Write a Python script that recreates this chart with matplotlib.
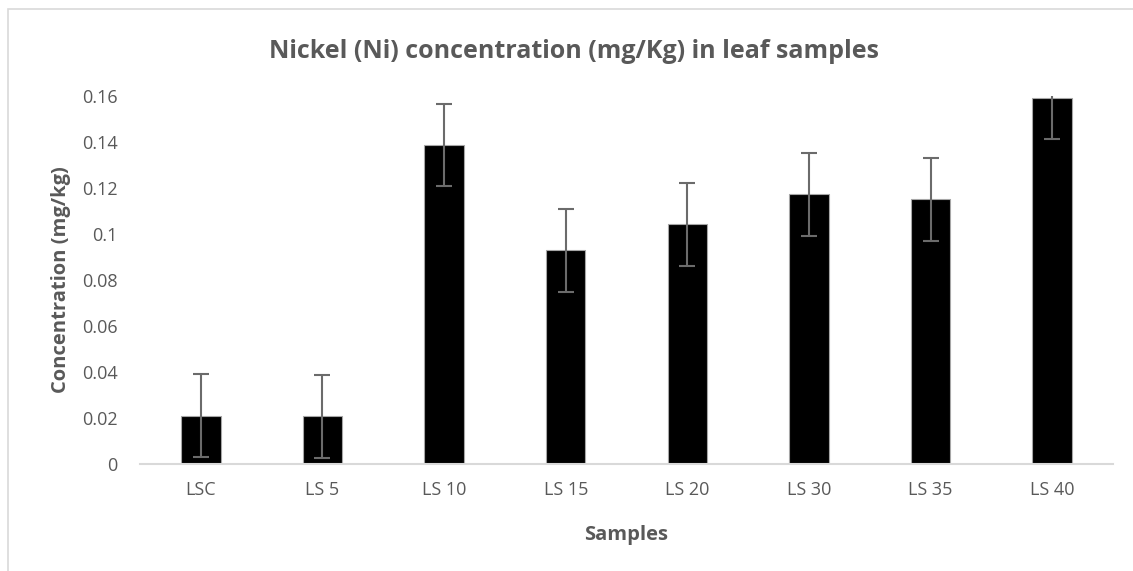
import numpy as np
import matplotlib.pyplot as plt
from matplotlib.patches import Rectangle

samples = ["LSC", "LS 5", "LS 10", "LS 15", "LS 20", "LS 30", "LS 35", "LS 40"]
nickel = [0.0210, 0.0208, 0.1386, 0.0929, 0.1042, 0.1172, 0.1151, 0.1590]
nickel_err = [0.018, 0.018, 0.018, 0.018, 0.018, 0.018, 0.018, 0.018]
y_ticks = [0, 0.02, 0.04, 0.06, 0.08, 0.1, 0.12, 0.14, 0.16]
y_tick_labels = ["0", "0.02", "0.04", "0.06", "0.08", "0.1", "0.12", "0.14", "0.16"]

plt.rcParams['font.family'] = ['Open Sans', 'DejaVu Sans']
text_col = "#595959"

W, H = 1133, 571
fig = plt.figure(figsize=(W / 100, H / 100), dpi=100)

# chart area border (only left/top visible in the crop)
fig.add_artist(Rectangle((8 / W, -0.1), 1.2, 1 - 9 / H + 0.1, transform=fig.transFigure,
                         fill=False, edgecolor="#d9d9d9", linewidth=1.2))

ax = fig.add_axes([140 / W, 1 - 464.3 / H, (1113 - 140) / W, (464.3 - 95.7) / H])

x = np.arange(len(samples))
ax.bar(x, nickel, width=0.325, color="black", edgecolor="#a6a6a6", linewidth=0.8, zorder=2)
ax.errorbar(x, nickel, yerr=nickel_err, fmt="none", ecolor="#6b6b6b", elinewidth=1.5,
            capsize=5.5, capthick=1.5, zorder=3)

ax.set_xlim(-0.5, len(samples) - 0.5)
ax.set_ylim(0, 0.16)
ax.set_yticks(y_ticks)
ax.set_yticklabels(y_tick_labels)
ax.set_xticks(x)
ax.set_xticklabels(samples)
ax.tick_params(axis="both", length=0, labelsize=13, labelcolor=text_col)
ax.tick_params(axis="y", pad=16)
ax.tick_params(axis="x", pad=12)

for s in ["top", "right", "left"]:
    ax.spines[s].set_visible(False)
ax.spines["bottom"].set_color("#d9d9d9")
ax.spines["bottom"].set_linewidth(1.5)

ax.set_ylabel("Concentration (mg/kg)", fontsize=14.5, fontweight="bold", color=text_col, labelpad=8)
ax.set_xlabel("Samples", fontsize=14.5, fontweight="bold", color=text_col, labelpad=19)

fig.text(574 / W, 1 - 52 / H, "Nickel (Ni) concentration (mg/Kg) in leaf samples",
         ha="center", va="center", fontsize=18, fontweight="bold", color=text_col)

fig.savefig("out.png", dpi=100)
